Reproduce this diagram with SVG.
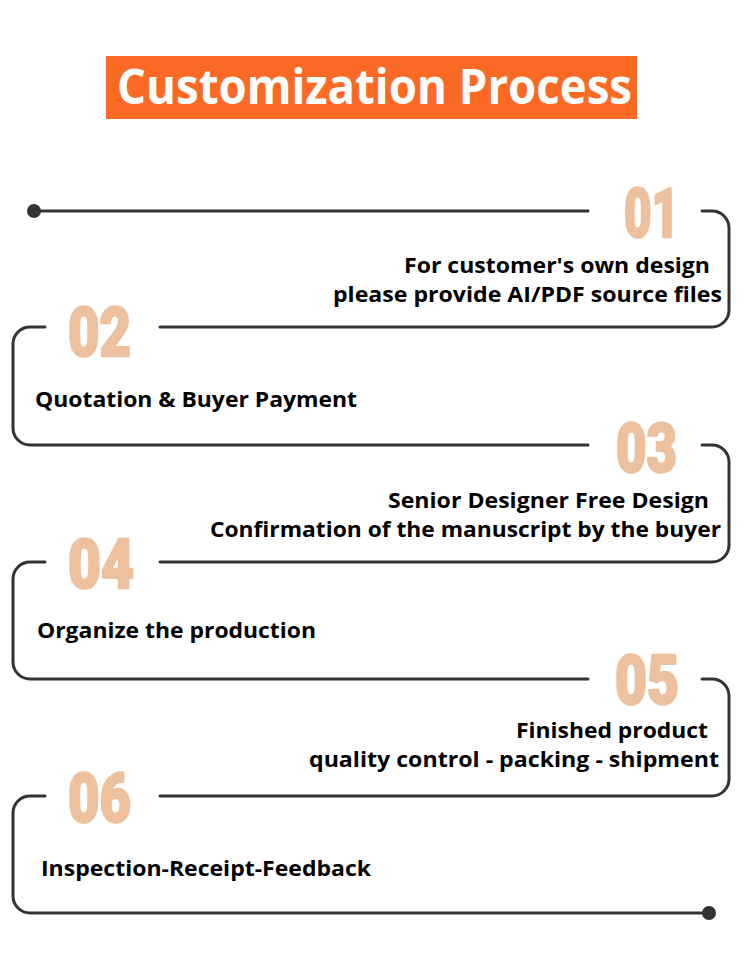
<svg xmlns="http://www.w3.org/2000/svg" width="750" height="963" viewBox="0 0 750 963">
<style>
.num{font-family:Roboto,"Liberation Sans",sans-serif;font-weight:900;font-size:68px;fill:#EDC09E;stroke:#EDC09E;stroke-width:2.5;stroke-linejoin:round}
.lbl{font-family:"Open Sans","Noto Sans",sans-serif;font-weight:700;font-size:22px;fill:#000}
.r{text-anchor:end}
.ln{fill:none;stroke:#333;stroke-width:3;stroke-linecap:round}
</style>
<rect width="750" height="963" fill="#fff"/>
<g id="title">
<rect x="106" y="56" width="531" height="63" fill="#FA6A24"/>
<text x="117" y="104" font-family="'Open Sans','Noto Sans',sans-serif" font-weight="700" font-size="49" fill="#fff" textLength="515" lengthAdjust="spacingAndGlyphs">Customization Process</text>
</g>
<g id="connectors" class="ln">
<path d="M34,211 H588"/>
<path d="M702,211 H712 A17,17 0 0 1 729,228 V310 A17,17 0 0 1 712,327 H160"/>
<path d="M45,327 H30 A17,17 0 0 0 13,344 V428 A17,17 0 0 0 30,445 H588"/>
<path d="M702,445 H712 A17,17 0 0 1 729,462 V545 A17,17 0 0 1 712,562 H160"/>
<path d="M45,562 H30 A17,17 0 0 0 13,579 V662 A17,17 0 0 0 30,679 H588"/>
<path d="M702,679 H712 A17,17 0 0 1 729,696 V779 A17,17 0 0 1 712,796 H160"/>
<path d="M45,796 H30 A17,17 0 0 0 13,813 V896 A17,17 0 0 0 30,913 H709"/>
<circle cx="34" cy="211" r="7" fill="#333" stroke="none"/>
<circle cx="709" cy="913" r="7" fill="#333" stroke="none"/>
</g>
<g id="step1">
<text class="num" x="624" y="237" textLength="55" lengthAdjust="spacingAndGlyphs">01</text>
<text class="lbl r" x="710" y="273" textLength="306" lengthAdjust="spacingAndGlyphs">For customer's own design</text>
<text class="lbl r" x="722" y="302" textLength="389" lengthAdjust="spacingAndGlyphs">please provide AI/PDF source files</text>
</g>
<g id="step2">
<text class="num" x="68" y="356" textLength="63" lengthAdjust="spacingAndGlyphs">02</text>
<text class="lbl" x="35" y="407" textLength="322" lengthAdjust="spacingAndGlyphs">Quotation &amp; Buyer Payment</text>
</g>
<g id="step3">
<text class="num" x="616" y="472" textLength="61" lengthAdjust="spacingAndGlyphs">03</text>
<text class="lbl r" x="709" y="508" textLength="321" lengthAdjust="spacingAndGlyphs">Senior Designer Free Design</text>
<text class="lbl r" x="721" y="537" textLength="511" lengthAdjust="spacingAndGlyphs">Confirmation of the manuscript by the buyer</text>
</g>
<g id="step4">
<text class="num" x="68" y="588" textLength="66" lengthAdjust="spacingAndGlyphs">04</text>
<text class="lbl" x="37" y="638" textLength="279" lengthAdjust="spacingAndGlyphs">Organize the production</text>
</g>
<g id="step5">
<text class="num" x="615" y="704" textLength="64" lengthAdjust="spacingAndGlyphs">05</text>
<text class="lbl r" x="708" y="738" textLength="192" lengthAdjust="spacingAndGlyphs">Finished product</text>
<text class="lbl r" x="719" y="767" textLength="410" lengthAdjust="spacingAndGlyphs">quality control - packing - shipment</text>
</g>
<g id="step6">
<text class="num" x="68" y="822" textLength="63" lengthAdjust="spacingAndGlyphs">06</text>
<text class="lbl" x="41" y="876" textLength="330" lengthAdjust="spacingAndGlyphs">Inspection-Receipt-Feedback</text>
</g>
</svg>
